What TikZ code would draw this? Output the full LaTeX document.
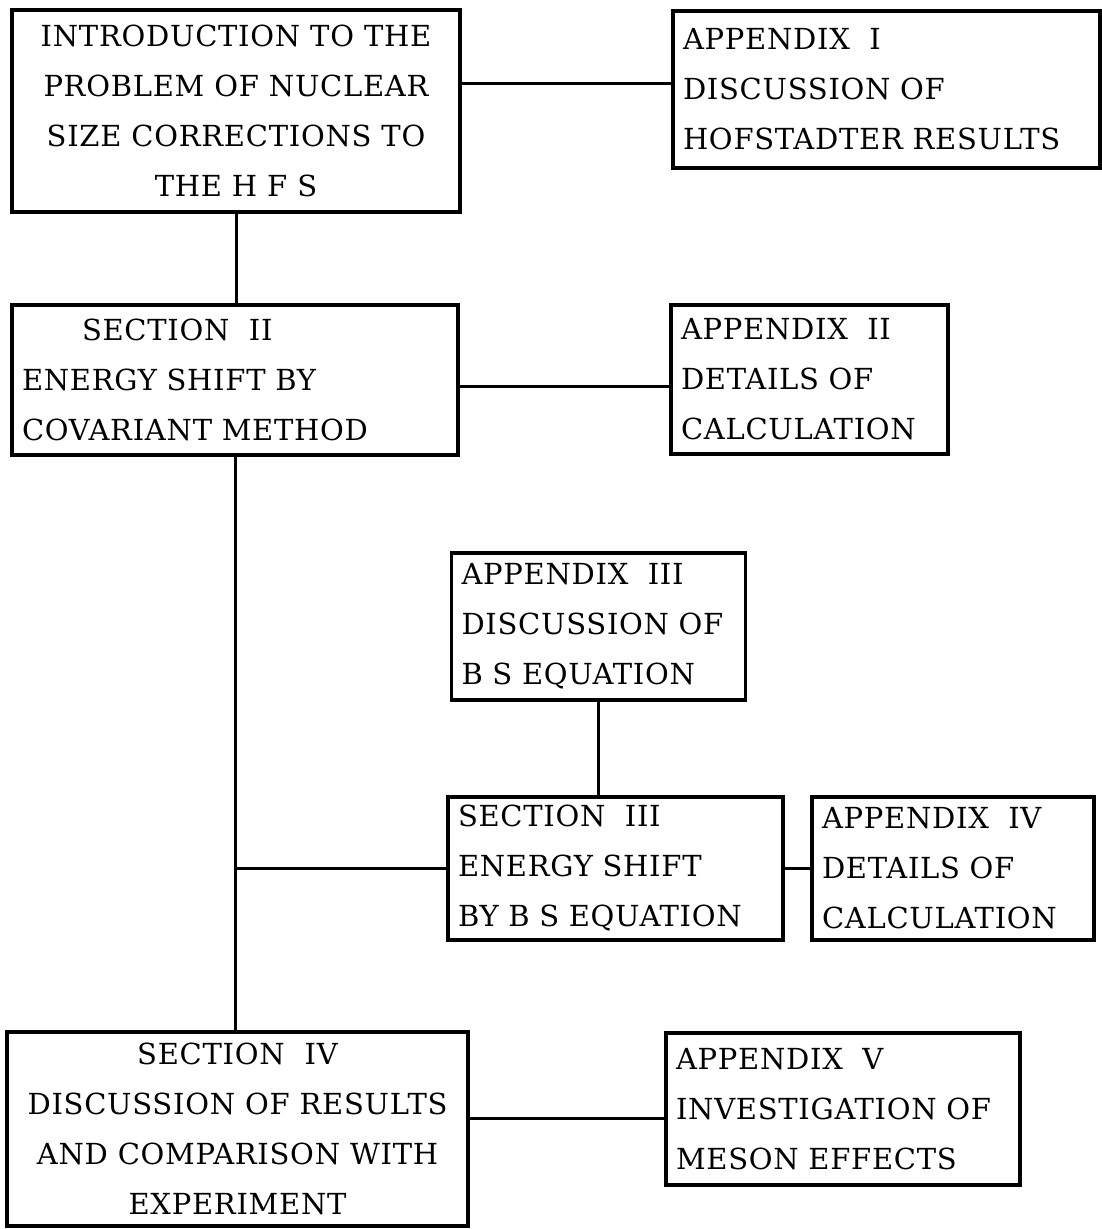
\documentclass[tikz,border=0pt]{standalone}
\usepackage{fontspec}
\setmainfont{DejaVu Serif}[LetterSpace=2.5]
\usepackage{tikz}
\newcommand*\boxrule{1.9pt}
\newcommand*\wirerule{1.5pt}
\tikzset{
    box/.style    = {draw, rectangle, line width=\boxrule, inner xsep=5pt, inner ysep=0pt,
                    font=\fontsize{14.5}{25}\selectfont},
    secbox/.style = {box, align=center},
    appbox/.style = {box, align=left},
    wire/.style   = {line width=\wirerule},
  }
\begin{document}
\begin{tikzpicture}[x=0.5pt, y=-0.5pt]
      \useasboundingbox (0,0) rectangle (1101,1229);

      % main sections, left column
      \node (intro) [secbox, minimum width=224pt, minimum height=101pt] at (236,111)
        {INTRODUCTION TO THE\\PROBLEM OF NUCLEAR\\SIZE CORRECTIONS TO\\THE H F S};
      \node (sec2) [appbox, text width=213pt, minimum height=75pt] at (235,380)
        {\hspace*{30pt}SECTION\ \ II\\ENERGY SHIFT BY\\COVARIANT METHOD};
      \node (sec3) [appbox, text width=157.5pt, minimum height=71.5pt] at (615.5,868.5)
        {SECTION\ \ III\\ENERGY SHIFT\\BY B S EQUATION};
      \node (sec4) [secbox, minimum width=230.5pt, minimum height=97pt] at (237.5,1129)
        {SECTION\ \ IV\\DISCUSSION OF RESULTS\\AND COMPARISON WITH\\EXPERIMENT};

      % appendices
      \node (app1) [appbox, text width=203.5pt, minimum height=78.5pt] at (886.5,89.5)
        {APPENDIX\ \ I\\DISCUSSION OF\\HOFSTADTER RESULTS};
      \node (app2) [appbox, text width=128.5pt, minimum height=74.5pt] at (809.5,379.5)
        {APPENDIX\ \ II\\DETAILS OF\\CALCULATION};
      \node (app3) [appbox, text width=137pt, minimum height=73.5pt] at (598.5,626.5)
        {APPENDIX\ \ III\\DISCUSSION OF\\B S EQUATION};
      \node (app4) [appbox, text width=131pt, minimum height=71.5pt] at (953,868.5)
        {APPENDIX\ \ IV\\DETAILS OF\\CALCULATION};
      \node (app5) [appbox, text width=167pt, minimum height=76pt] at (843,1109)
        {APPENDIX\ \ V\\INVESTIGATION OF\\MESON EFFECTS};

      % connectors
      \draw[wire] ([yshift=3pt]app1.west -| intro.east) -- ([yshift=3pt]app1.west);
      \draw[wire] (intro.south) -- (intro.south |- sec2.north);
      \draw[wire] ([yshift=-3.5pt]sec2.east) -- ([yshift=-3.5pt]sec2.east -| app2.west);
      \draw[wire] (sec2.south) -- (sec2.south |- sec4.north);
      \draw[wire] (sec2.south |- sec3.west) -- (sec3.west);
      \draw[wire] (app3.south) -- (app3.south |- sec3.north);
      \draw[wire] (sec3.east) -- (app4.west);
      \draw[wire] ([yshift=-4.5pt]app5.west -| sec4.east) -- ([yshift=-4.5pt]app5.west);
    \end{tikzpicture}
\end{document}
